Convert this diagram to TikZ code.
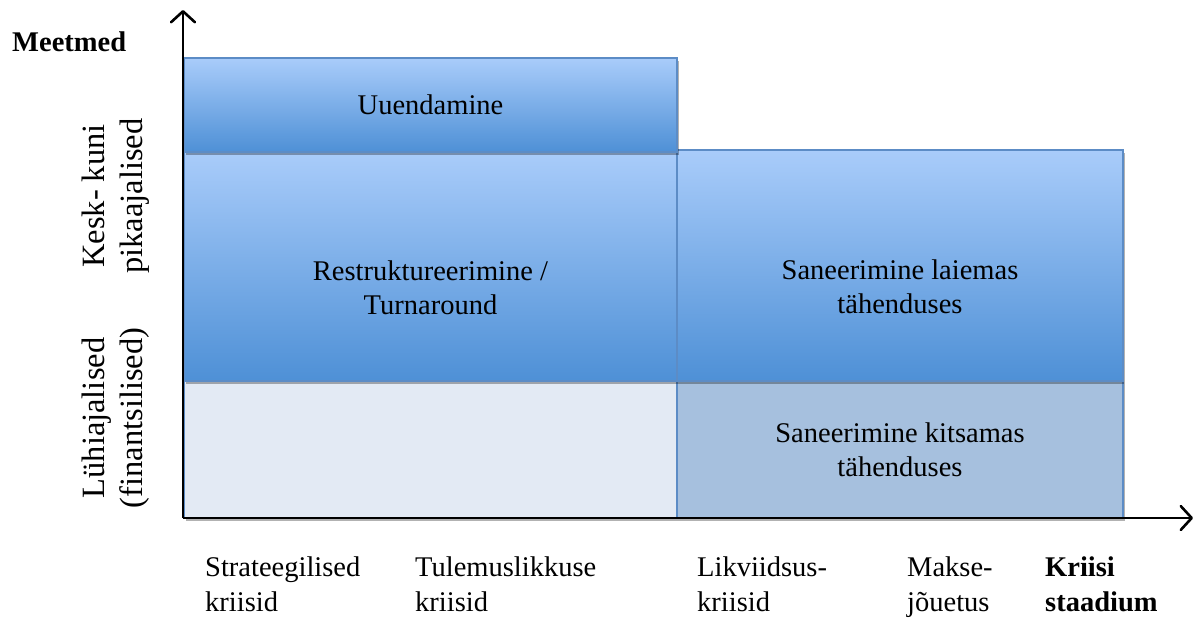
\documentclass[tikz,border=0pt]{standalone}
\usepackage{fontspec}
\setmainfont{Liberation Serif}
\usetikzlibrary{arrows.meta,shadows}
\definecolor{gtop}{HTML}{A9CCFA}
\definecolor{gbot}{HTML}{4E90D6}
\definecolor{barline}{HTML}{5C8CC6}
\definecolor{palefill}{HTML}{E3EAF4}
\definecolor{midfill}{HTML}{A6C0DE}
\begin{document}
\begin{tikzpicture}[x=1pt,y=-1pt,
  txt/.style={font=\fontsize{28.5}{34.5}\selectfont, align=center, inner sep=0pt},
  sidetxt/.style={font=\fontsize{32.5}{38}\selectfont, align=center, inner sep=0pt, rotate=90},
  bar/.style={draw=barline, line width=1.3pt, inner sep=0pt,
    drop shadow={shadow xshift=2pt, shadow yshift=-3pt, opacity=0.3, fill=black}},
  grad/.style={bar, top color=gtop, bottom color=gbot},
  flat/.style={bar, fill=#1},
  axis/.style={line width=2.6pt, -{Straight Barb[length=11pt,width=24pt,line cap=round,line join=round]}},
  tick/.style={font=\fontsize{28.5}{34.5}\selectfont, align=left, inner sep=0pt, anchor=north west}
]
\useasboundingbox (0,0) rectangle (1195,619);

% lower row: short-term measures
\node[flat=palefill, minimum width=493pt, minimum height=137pt] (short) at (430.5,449.5) {};
\node[flat=midfill, minimum width=446pt, minimum height=137pt] (narrow) at (900,449.5) {};
\node[txt] (narrowtxt) at (narrow.center) {Saneerimine kitsamas\\tähenduses};

% middle row: medium to long term measures
\node[grad, minimum width=493pt, minimum height=229pt] (turn) at (430.5,266.5) {};
\node[txt] (turntxt) at ([yshift=-21pt]turn.center) {Restruktureerimine /\\Turnaround};
\node[grad, minimum width=446pt, minimum height=231pt] (broad) at (900,265.5) {};
\node[txt] (broadtxt) at ([yshift=-21pt]broad.center) {Saneerimine laiemas\\tähenduses};

% top row
\node[grad, minimum width=493pt, minimum height=94pt] (renew) at (430.5,105) {};
\node[txt] (renewtxt) at (renew.center) {Uuendamine};

% axes
\coordinate (origin) at (183,518);
\coordinate (ytip) at (183,10);
\coordinate (xtip) at (1193,518);
\draw[axis] (origin) -- (ytip);
\draw[axis] (origin) -- (xtip);

% axis titles
\node[txt, font=\fontsize{28.5}{34.5}\selectfont\bfseries, anchor=base west] (ytitle) at (12,51) {Meetmed};
\node[sidetxt] (longterm) at (116,196) {Kesk- kuni\\pikaajalised};
\node[sidetxt] (shortterm) at (116,418) {Lühiajalised\\(finantsilised)};

% crisis stages
\node[tick] (s1) at (205,557) {Strateegilised\\kriisid};
\node[tick] (s2) at (415,557) {Tulemuslikkuse\\kriisid};
\node[tick] (s3) at (697,557) {Likviidsus-\\kriisid};
\node[tick] (s4) at (907,557) {Makse-\\jõuetus};
\node[tick, font=\fontsize{28.5}{34.5}\selectfont\bfseries] (s5) at (1045,557) {Kriisi\\staadium};
\end{tikzpicture}
\end{document}
